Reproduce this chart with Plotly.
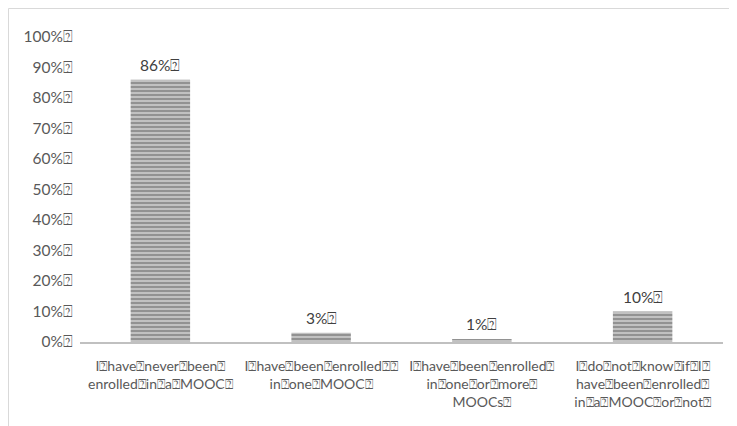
import plotly.graph_objects as go

B = "\u2370"  # box glyph as shown in the reference in place of spaces

categories = [
    f"I{B}have{B}never{B}been{B}<br>enrolled{B}in{B}a{B}MOOC{B}",
    f"I{B}have{B}been{B}enrolled{B}{B}<br>in{B}one{B}MOOC{B}",
    f"I{B}have{B}been{B}enrolled{B}<br>in{B}one{B}or{B}more{B}<br>MOOCs{B}",
    f"I{B}do{B}not{B}know{B}if{B}I{B}<br>have{B}been{B}enrolled{B}<br>in{B}a{B}MOOC{B}or{B}not{B}",
]
values = [0.86, 0.03, 0.01, 0.10]
value_labels = [f"{round(v*100)}%{B}" for v in values]
ytick_vals = [i / 10 for i in range(11)]
ytick_text = [f"{i*10}%{B}" for i in range(11)]

FONT = "Lato, Carlito, 'Liberation Sans', sans-serif"
OFF = 8  # page body margin
W, H = 737 - OFF, 426 - OFF
ml, mr, mt, mb = 80 - OFF, 14, 37 - OFF, 84
pw, ph = W - ml - mr, H - mt - mb

def px_x(p):
    return (p - OFF - ml) / pw

def px_y(p):
    return (H - mb - (p - OFF)) / ph

xs = list(range(len(categories)))

fig = go.Figure(
    go.Bar(
        x=xs,
        y=values,
        width=0.37,
        marker=dict(
            color="#c4c4c4",
            line=dict(width=0),
            pattern=dict(shape="-", size=4, solidity=0.55,
                         fgcolor="#5e5e5e", bgcolor="#c6c6c6"),
        ),
        hoverinfo="skip",
    )
)

annotations = [
    dict(x=x, y=v, xref="x", yref="y", text=t, showarrow=False,
         yanchor="bottom", yshift=4,
         font=dict(size=15.5, color="#404040", family=FONT))
    for x, v, t in zip(xs, values, value_labels)
]

fig.update_layout(
    width=W, height=H,
    margin=dict(l=ml, r=mr, t=mt, b=mb),
    paper_bgcolor="white", plot_bgcolor="white",
    showlegend=False,
    font=dict(family=FONT, size=14, color="#595959"),
    xaxis=dict(
        tickmode="array", tickvals=xs, ticktext=categories,
        range=[-0.5, 3.5], showgrid=False, zeroline=False,
        showline=True, linecolor="#c0c0c0", linewidth=2, ticks="",
        tickfont=dict(size=14, color="#595959", family=FONT),
        tickangle=0, ticklabelstandoff=10,
    ),
    yaxis=dict(
        range=[0, 1], tickmode="array", tickvals=ytick_vals, ticktext=ytick_text,
        showgrid=False, zeroline=False, showline=False, ticks="",
        tickfont=dict(size=15.5, color="#595959", family=FONT),
        ticklabelstandoff=6,
    ),
    annotations=annotations,
    shapes=[dict(
        type="rect", xref="paper", yref="paper",
        x0=px_x(8.5), x1=px_x(800), y0=px_y(440), y1=px_y(8.5),
        line=dict(color="#d9d9d9", width=1), fillcolor="rgba(0,0,0,0)", layer="below",
    )],
)

fig.write_html("out.html")
